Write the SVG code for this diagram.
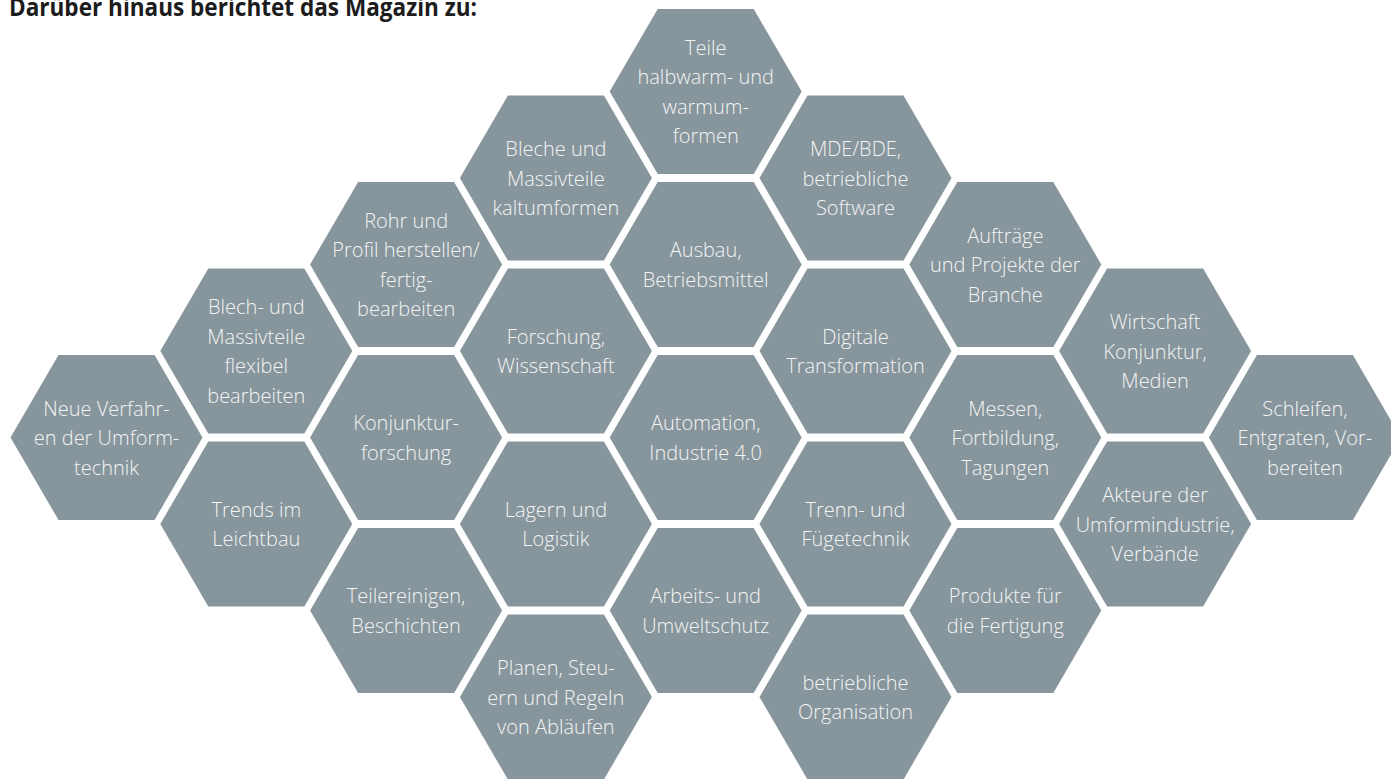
<svg xmlns="http://www.w3.org/2000/svg" xmlns:xlink="http://www.w3.org/1999/xlink" width="1391" height="779" viewBox="0 0 1391 779">
<style>
.hex{fill:#87959c;}
.lbl{font-family:"Open Sans","Noto Sans","Liberation Sans",sans-serif;font-weight:300;font-size:20px;fill:#f3f4f4;text-anchor:middle;}
.title{font-family:"Open Sans","Noto Sans","Liberation Sans",sans-serif;font-weight:700;font-size:25px;fill:#1c1c1c;}
</style>
<defs>
<polygon id="hex" points="-48,-82.5 48,-82.5 96,0 48,82.5 -48,82.5 -96,0"/>
</defs>
<rect width="1391" height="779" fill="#ffffff"/>
<text class="title" x="9" y="15.5" textLength="468" lengthAdjust="spacingAndGlyphs">Darüber hinaus berichtet das Magazin zu:</text>
<g id="connectors"/>
<g id="n01" transform="translate(106.5,437.5)"><use xlink:href="#hex" class="hex"/><text class="lbl"><tspan x="0" y="-22">Neue Verfahr-</tspan><tspan x="0" y="7.5">en der Umform-</tspan><tspan x="0" y="37">technik</tspan></text></g>
<g id="n02" transform="translate(256.3,351)"><use xlink:href="#hex" class="hex"/><text class="lbl"><tspan x="0" y="-36.75">Blech- und</tspan><tspan x="0" y="-7.25">Massivteile</tspan><tspan x="0" y="22.25">flexibel</tspan><tspan x="0" y="51.75">bearbeiten</tspan></text></g>
<g id="n03" transform="translate(256.3,524)"><use xlink:href="#hex" class="hex"/><text class="lbl"><tspan x="0" y="-7.25">Trends im</tspan><tspan x="0" y="22.25">Leichtbau</tspan></text></g>
<g id="n04" transform="translate(406.1,264.5)"><use xlink:href="#hex" class="hex"/><text class="lbl"><tspan x="0" y="-36.75">Rohr und</tspan><tspan x="0" y="-7.25">Profil herstellen/</tspan><tspan x="0" y="22.25">fertig-</tspan><tspan x="0" y="51.75">bearbeiten</tspan></text></g>
<g id="n05" transform="translate(406.1,437.5)"><use xlink:href="#hex" class="hex"/><text class="lbl"><tspan x="0" y="-7.25">Konjunktur-</tspan><tspan x="0" y="22.25">forschung</tspan></text></g>
<g id="n06" transform="translate(406.1,610.5)"><use xlink:href="#hex" class="hex"/><text class="lbl"><tspan x="0" y="-7.25">Teilereinigen,</tspan><tspan x="0" y="22.25">Beschichten</tspan></text></g>
<g id="n07" transform="translate(555.9,178)"><use xlink:href="#hex" class="hex"/><text class="lbl"><tspan x="0" y="-22">Bleche und</tspan><tspan x="0" y="7.5">Massivteile</tspan><tspan x="0" y="37">kaltumformen</tspan></text></g>
<g id="n08" transform="translate(555.9,351)"><use xlink:href="#hex" class="hex"/><text class="lbl"><tspan x="0" y="-7.25">Forschung,</tspan><tspan x="0" y="22.25">Wissenschaft</tspan></text></g>
<g id="n09" transform="translate(555.9,524)"><use xlink:href="#hex" class="hex"/><text class="lbl"><tspan x="0" y="-7.25">Lagern und</tspan><tspan x="0" y="22.25">Logistik</tspan></text></g>
<g id="n10" transform="translate(555.9,697)"><use xlink:href="#hex" class="hex"/><text class="lbl"><tspan x="0" y="-22">Planen, Steu-</tspan><tspan x="0" y="7.5">ern und Regeln</tspan><tspan x="0" y="37">von Abläufen</tspan></text></g>
<g id="n11" transform="translate(705.7,91.5)"><use xlink:href="#hex" class="hex"/><text class="lbl"><tspan x="0" y="-36.75">Teile</tspan><tspan x="0" y="-7.25">halbwarm- und</tspan><tspan x="0" y="22.25">warmum-</tspan><tspan x="0" y="51.75">formen</tspan></text></g>
<g id="n12" transform="translate(705.7,264.5)"><use xlink:href="#hex" class="hex"/><text class="lbl"><tspan x="0" y="-7.25">Ausbau,</tspan><tspan x="0" y="22.25">Betriebsmittel</tspan></text></g>
<g id="n13" transform="translate(705.7,437.5)"><use xlink:href="#hex" class="hex"/><text class="lbl"><tspan x="0" y="-7.25">Automation,</tspan><tspan x="0" y="22.25">Industrie 4.0</tspan></text></g>
<g id="n14" transform="translate(705.7,610.5)"><use xlink:href="#hex" class="hex"/><text class="lbl"><tspan x="0" y="-7.25">Arbeits- und</tspan><tspan x="0" y="22.25">Umweltschutz</tspan></text></g>
<g id="n15" transform="translate(855.5,178)"><use xlink:href="#hex" class="hex"/><text class="lbl"><tspan x="0" y="-22">MDE/BDE,</tspan><tspan x="0" y="7.5">betriebliche</tspan><tspan x="0" y="37">Software</tspan></text></g>
<g id="n16" transform="translate(855.5,351)"><use xlink:href="#hex" class="hex"/><text class="lbl"><tspan x="0" y="-7.25">Digitale</tspan><tspan x="0" y="22.25">Transformation</tspan></text></g>
<g id="n17" transform="translate(855.5,524)"><use xlink:href="#hex" class="hex"/><text class="lbl"><tspan x="0" y="-7.25">Trenn- und</tspan><tspan x="0" y="22.25">Fügetechnik</tspan></text></g>
<g id="n18" transform="translate(855.5,697)"><use xlink:href="#hex" class="hex"/><text class="lbl"><tspan x="0" y="-7.25">betriebliche</tspan><tspan x="0" y="22.25">Organisation</tspan></text></g>
<g id="n19" transform="translate(1005.3,264.5)"><use xlink:href="#hex" class="hex"/><text class="lbl"><tspan x="0" y="-22">Aufträge</tspan><tspan x="0" y="7.5">und Projekte der</tspan><tspan x="0" y="37">Branche</tspan></text></g>
<g id="n20" transform="translate(1005.3,437.5)"><use xlink:href="#hex" class="hex"/><text class="lbl"><tspan x="0" y="-22">Messen,</tspan><tspan x="0" y="7.5">Fortbildung,</tspan><tspan x="0" y="37">Tagungen</tspan></text></g>
<g id="n21" transform="translate(1005.3,610.5)"><use xlink:href="#hex" class="hex"/><text class="lbl"><tspan x="0" y="-7.25">Produkte für</tspan><tspan x="0" y="22.25">die Fertigung</tspan></text></g>
<g id="n22" transform="translate(1155.1,351)"><use xlink:href="#hex" class="hex"/><text class="lbl"><tspan x="0" y="-22">Wirtschaft</tspan><tspan x="0" y="7.5">Konjunktur,</tspan><tspan x="0" y="37">Medien</tspan></text></g>
<g id="n23" transform="translate(1155.1,524)"><use xlink:href="#hex" class="hex"/><text class="lbl"><tspan x="0" y="-22">Akteure der</tspan><tspan x="0" y="7.5">Umformindustrie,</tspan><tspan x="0" y="37">Verbände</tspan></text></g>
<g id="n24" transform="translate(1304.9,437.5)"><use xlink:href="#hex" class="hex"/><text class="lbl"><tspan x="0" y="-22">Schleifen,</tspan><tspan x="0" y="7.5">Entgraten, Vor-</tspan><tspan x="0" y="37">bereiten</tspan></text></g>
</svg>
